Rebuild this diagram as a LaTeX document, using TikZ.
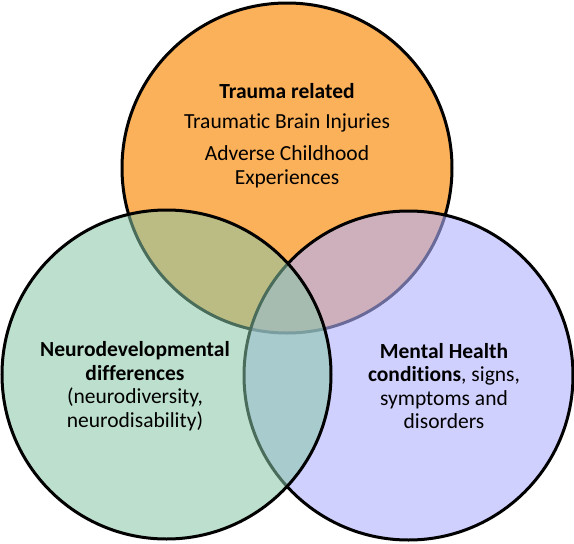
\documentclass[tikz,border=0pt]{standalone}
\usepackage{fontspec}
\setmainfont{Carlito}[Ligatures=NoCommon]
\definecolor{traumaorange}{RGB}{251,176,90}
\definecolor{neurogreen}{RGB}{136,199,166}
\definecolor{mentalpurple}{RGB}{177,177,255}
\begin{document}
\begin{tikzpicture}[x=1pt,y=-1pt,
  every node/.style={font=\fontsize{21.5}{23.5}\selectfont, align=center, inner sep=0pt},
  venn/.style={draw=black, line width=3pt}]
\useasboundingbox (0,0) rectangle (574,544);

\fill[white] (0,0) rectangle (574,544);
\draw[venn, fill=traumaorange] (287,168) circle (165);
\draw[venn, fill=mentalpurple, fill opacity=0.6] (408.5,375.5) circle (164.5);
\draw[venn, fill=neurogreen, fill opacity=0.55] (166.5,374.5) circle (164.5);

\node (trauma) at (287,91) {\textbf{Trauma related}};
\node (tbi) at (287,123) {Traumatic Brain Injuries};
\node (ace) at (287,167) {Adverse Childhood\\Experiences};

\node (neuro) at (135,386) {\textbf{Neurodevelopmental}\\\textbf{differences}\\(neurodiversity,\\neurodisability)};
\node (mental) at (444,386) {\textbf{Mental Health}\\\textbf{conditions}, signs,\\symptoms and\\disorders};
\end{tikzpicture}
\end{document}
